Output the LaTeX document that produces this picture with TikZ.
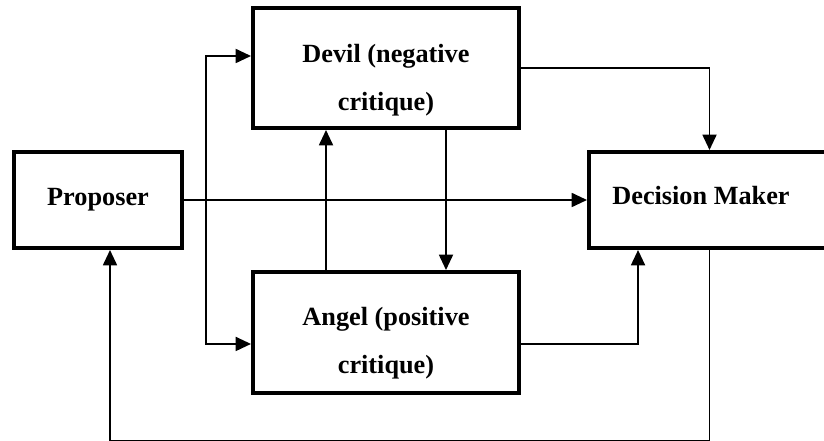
\documentclass[tikz,border=0pt]{standalone}
\usepackage{fontspec}
\setmainfont{Liberation Serif}
\usetikzlibrary{arrows.meta, positioning, calc}

\begin{document}
\begin{tikzpicture}[
    x=0.75pt, y=-0.75pt,
    box/.style={rectangle, draw, line width=3pt, inner sep=0pt, align=center},
    boxtext/.style={font=\fontsize{19.7pt}{36pt}\selectfont\bfseries, align=center, inner sep=0pt},
    arrow/.style={-{Triangle[length=11.5pt, width=10.5pt]}, line width=1.35pt}
]
\useasboundingbox (0,0) rectangle (824,441);

\node[box, boxtext, minimum width=126pt, minimum height=72pt] (proposer) at (98,200) {Proposer};
\node[box, minimum width=199.5pt, minimum height=90pt] (devil) at (386,68) {};
\node[box, minimum width=199.5pt, minimum height=90.75pt] (angel) at (386,332.5) {};
\node[box, minimum width=180.75pt, minimum height=72pt] (dm) at (709.5,200) {};

\node[boxtext] (devil-text) at (386,80) {Devil (negative\\critique)};
\node[boxtext] (angel-text) at (386,343) {Angel (positive\\critique)};
\node[boxtext, anchor=base] (dm-text) at (701,205) {Decision Maker};

\coordinate (split) at (206,200);

\draw[arrow] (proposer.east) -- (dm.west);
\draw[arrow] (split) |- ([yshift=9pt]devil.west);
\draw[arrow] (split) |- ([yshift=-8.6pt]angel.west);
\draw[arrow] ([xshift=-45pt]angel.north) -- ([xshift=-45pt]devil.south);
\draw[arrow] ([xshift=45pt]devil.south) -- ([xshift=45pt]angel.north);
\draw[arrow] (devil.east) -| (dm.north);
\draw[arrow] ([yshift=-8.6pt]angel.east) -| ([xshift=-53.6pt]dm.south);
\draw[arrow] (dm.south) -- ++(0,191) -| ([xshift=9pt]proposer.south);
\end{tikzpicture}
\end{document}
